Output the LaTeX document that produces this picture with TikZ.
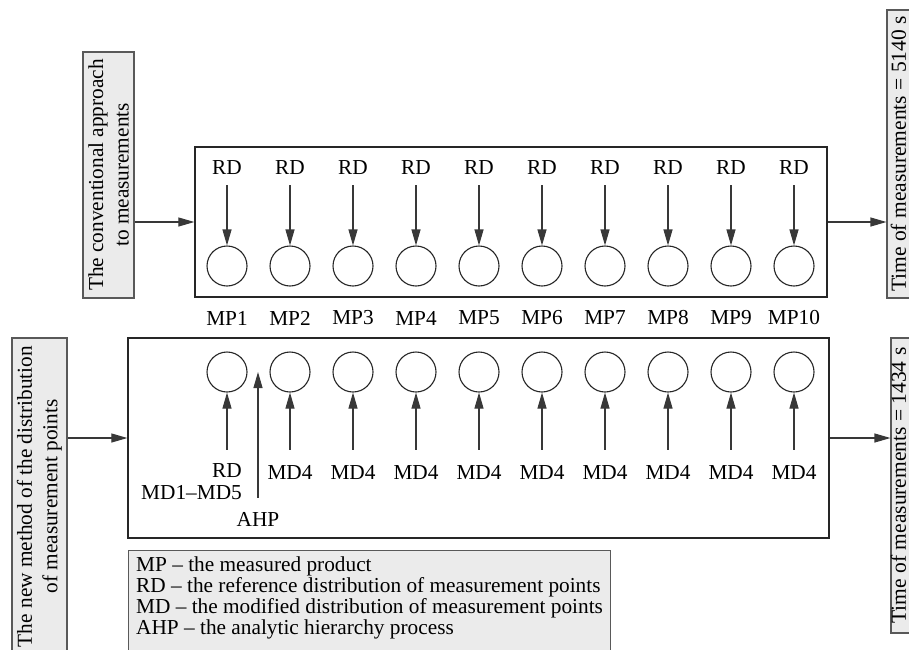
\documentclass[tikz,border=0pt]{standalone}
\usepackage{fontspec}
\setmainfont{Liberation Serif}
\usetikzlibrary{arrows.meta}

\definecolor{boxgray}{HTML}{EBEBEB}
\definecolor{linegray}{HTML}{383838}

\tikzset{
	txt/.style={font=\fontsize{21.3}{21}\selectfont,inner sep=2pt},
	mp/.style={draw=black!85,circle,line width=1.1pt,inner sep=0,minimum size=40pt},
	arr/.style={draw=linegray,line width=1.1pt,-{Triangle[length=16pt,width=9pt]}},
	frame/.style={draw=black!85,line width=1.3pt,inner sep=0},
	greybox/.style={draw=black!65,fill=boxgray,line width=1.1pt,rotate=90,align=center,inner sep=0,font=\fontsize{21.3}{25.5}\selectfont},
	sidetxt/.style={rotate=90,inner sep=0,font=\fontsize{21.5}{25.5}\selectfont},
}

\begin{document}
\begin{tikzpicture}[x=1pt,y=-1pt]
	\useasboundingbox (0,0) rectangle (909,649);
	\clip (0,0) rectangle (909,649);
	\node[frame,minimum width=632pt,minimum height=150pt] (conv) at (511,222) {};
	\node[frame,minimum width=701pt,minimum height=200pt] (newm) at (478.5,438) {};
	\node[greybox,minimum width=246pt,minimum height=51pt] (convtxt) at (108.5,175) {The conventional approach\\to measurements};
	\node[greybox,minimum width=317pt,minimum height=55pt] (newtxt) at (39.5,496.5) {The new method of the distribution\\of measurement points};
	\node[greybox,minimum width=288pt,minimum height=40pt] (time1) at (907,154) {};
	\node[sidetxt] (time1txt) at (898.5,154) {Time of measurements = 5140 s};
	\node[greybox,minimum width=295pt,minimum height=40pt] (time2) at (911,485.5) {};
	\node[sidetxt] (time2txt) at (898.5,485.5) {Time of measurements = 1434 s};
	\node[draw=black!65,fill=boxgray,line width=1.1pt,anchor=north west,minimum width=482pt,minimum height=110pt] (legend) at (128,550) {};
	\node[txt,align=left,anchor=north west,inner sep=0] (legendtxt) at (136,557) {MP – the measured product\\RD – the reference distribution of measurement points\\MD – the modified distribution of measurement points\\AHP – the analytic hierarchy process};
	\draw[arr] (convtxt.south |- conv.west) -- (conv.west);
	\draw[arr] (conv.east) -- (conv.east -| time1.north);
	\draw[arr] (newtxt.south |- newm.west) -- (newm.west);
	\draw[arr] (newm.east) -- (newm.east -| time2.north);
	\node[mp] (mp1) at (227,266) {};
	\node[mp] (mp2) at (290,266) {};
	\node[mp] (mp3) at (353,266) {};
	\node[mp] (mp4) at (416,266) {};
	\node[mp] (mp5) at (479,266) {};
	\node[mp] (mp6) at (542,266) {};
	\node[mp] (mp7) at (605,266) {};
	\node[mp] (mp8) at (668,266) {};
	\node[mp] (mp9) at (731,266) {};
	\node[mp] (mp10) at (794,266) {};
	\node[txt] (rd1) at (227,168) {RD};
	\node[txt] (rd2) at (290,168) {RD};
	\node[txt] (rd3) at (353,168) {RD};
	\node[txt] (rd4) at (416,168) {RD};
	\node[txt] (rd5) at (479,168) {RD};
	\node[txt] (rd6) at (542,168) {RD};
	\node[txt] (rd7) at (605,168) {RD};
	\node[txt] (rd8) at (668,168) {RD};
	\node[txt] (rd9) at (731,168) {RD};
	\node[txt] (rd10) at (794,168) {RD};
	\node[txt] (lab1) at (227,318) {MP1};
	\node[txt] (lab2) at (290,318) {MP2};
	\node[txt] (lab3) at (353,318) {MP3};
	\node[txt] (lab4) at (416,318) {MP4};
	\node[txt] (lab5) at (479,318) {MP5};
	\node[txt] (lab6) at (542,318) {MP6};
	\node[txt] (lab7) at (605,318) {MP7};
	\node[txt] (lab8) at (668,318) {MP8};
	\node[txt] (lab9) at (731,318) {MP9};
	\node[txt] (lab10) at (794,318) {MP10};
	\draw[arr,shorten <=8pt] (rd1) -- (mp1);
	\draw[arr,shorten <=8pt] (rd2) -- (mp2);
	\draw[arr,shorten <=8pt] (rd3) -- (mp3);
	\draw[arr,shorten <=8pt] (rd4) -- (mp4);
	\draw[arr,shorten <=8pt] (rd5) -- (mp5);
	\draw[arr,shorten <=8pt] (rd6) -- (mp6);
	\draw[arr,shorten <=8pt] (rd7) -- (mp7);
	\draw[arr,shorten <=8pt] (rd8) -- (mp8);
	\draw[arr,shorten <=8pt] (rd9) -- (mp9);
	\draw[arr,shorten <=8pt] (rd10) -- (mp10);
	\node[mp] (pt1) at (227,372) {};
	\node[mp] (pt2) at (290,372) {};
	\node[mp] (pt3) at (353,372) {};
	\node[mp] (pt4) at (416,372) {};
	\node[mp] (pt5) at (479,372) {};
	\node[mp] (pt6) at (542,372) {};
	\node[mp] (pt7) at (605,372) {};
	\node[mp] (pt8) at (668,372) {};
	\node[mp] (pt9) at (731,372) {};
	\node[mp] (pt10) at (794,372) {};
	\node[txt] (rdb) at (227,471) {RD};
	\node[txt] (md2) at (290,472) {MD4};
	\node[txt] (md3) at (353,472) {MD4};
	\node[txt] (md4) at (416,472) {MD4};
	\node[txt] (md5) at (479,472) {MD4};
	\node[txt] (md6) at (542,472) {MD4};
	\node[txt] (md7) at (605,472) {MD4};
	\node[txt] (md8) at (668,472) {MD4};
	\node[txt] (md9) at (731,472) {MD4};
	\node[txt] (md10) at (794,472) {MD4};
	\node[txt,anchor=east] (mdall) at (244,493) {MD1–MD5};
	\node[txt] (ahp) at (258,519) {AHP};
	\coordinate (ahptip) at (258,372);
	\draw[arr,shorten <=12pt] (rdb) -- (pt1);
	\draw[arr,shorten <=13pt] (md2) -- (pt2);
	\draw[arr,shorten <=13pt] (md3) -- (pt3);
	\draw[arr,shorten <=13pt] (md4) -- (pt4);
	\draw[arr,shorten <=13pt] (md5) -- (pt5);
	\draw[arr,shorten <=13pt] (md6) -- (pt6);
	\draw[arr,shorten <=13pt] (md7) -- (pt7);
	\draw[arr,shorten <=13pt] (md8) -- (pt8);
	\draw[arr,shorten <=13pt] (md9) -- (pt9);
	\draw[arr,shorten <=13pt] (md10) -- (pt10);
	\draw[arr,shorten <=12pt] (ahp) -- (ahptip);
\end{tikzpicture}
\end{document}
